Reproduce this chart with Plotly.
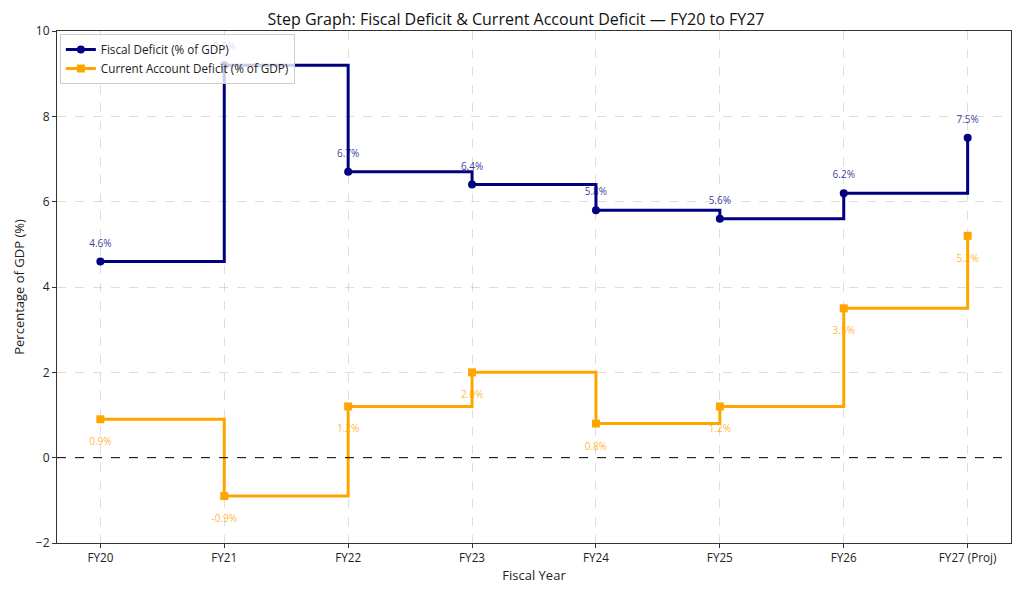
import plotly.graph_objects as go

years = ["FY20", "FY21", "FY22", "FY23", "FY24", "FY25", "FY26", "FY27 (Proj)"]
fiscal_deficit = [4.6, 9.2, 6.7, 6.4, 5.8, 5.6, 6.2, 7.5]
current_account_deficit = [0.9, -0.9, 1.2, 2.0, 0.8, 1.2, 3.5, 5.2]

NAVY = "#000080"
ORANGE = "#FFA500"
FONT = "Open Sans"

fig = go.Figure()

fig.add_trace(go.Scatter(
    x=years, y=fiscal_deficit, mode="lines+markers", line_shape="hv",
    name="Fiscal Deficit (% of GDP)",
    line=dict(color=NAVY, width=3),
    marker=dict(symbol="circle", size=8, color=NAVY),
))
fig.add_trace(go.Scatter(
    x=years, y=current_account_deficit, mode="lines+markers", line_shape="hv",
    name="Current Account Deficit (% of GDP)",
    line=dict(color=ORANGE, width=3),
    marker=dict(symbol="square", size=8, color=ORANGE),
))

# value labels (invisible markers push the text away from the points)
fig.add_trace(go.Scatter(
    x=years, y=fiscal_deficit, mode="markers+text",
    text=[f"{v:.1f}%" for v in fiscal_deficit], textposition="top center",
    textfont=dict(color="rgba(0,0,128,0.8)", size=10, family=FONT),
    marker=dict(size=18, color="rgba(0,0,0,0)"), showlegend=False, hoverinfo="skip",
))
fig.add_trace(go.Scatter(
    x=years, y=current_account_deficit, mode="markers+text",
    text=[f"{v:.1f}%" for v in current_account_deficit], textposition="bottom center",
    textfont=dict(color="rgba(255,165,0,0.8)", size=10, family=FONT),
    marker=dict(size=28, color="rgba(0,0,0,0)"), showlegend=False, hoverinfo="skip",
))

fig.add_hline(y=0, line=dict(color="black", width=1, dash="dash"))

fig.update_layout(
    width=1016, height=589,
    margin=dict(l=49, r=13, t=23, b=54),
    paper_bgcolor="white", plot_bgcolor="white",
    font=dict(family=FONT, size=12, color="#222"),
    title=dict(text="Step Graph: Fiscal Deficit & Current Account Deficit — FY20 to FY27",
               x=0.5, xanchor="center", y=0.98, yanchor="middle",
               font=dict(size=16, color="#111")),
    legend=dict(x=0.003, y=0.994, xanchor="left", yanchor="top",
                bgcolor="rgba(255,255,255,0.8)", bordercolor="#ccc", borderwidth=1,
                font=dict(size=11.7, color="#222"), tracegroupgap=0),
    showlegend=True,
)
fig.update_xaxes(
    type="category", range=[-0.35, 7.35],
    title=dict(text="Fiscal Year", font=dict(size=13), standoff=6),
    showgrid=True, gridcolor="rgba(0,0,0,0.13)", griddash="dash", gridwidth=1,
    showline=True, linecolor="#333", linewidth=1, mirror=True,
    ticks="outside", ticklen=4, tickcolor="#333", tickfont=dict(size=11.7),
    zeroline=False,
)
fig.update_yaxes(
    range=[-2, 10], dtick=2,
    title=dict(text="Percentage of GDP (%)", font=dict(size=13), standoff=8),
    showgrid=True, gridcolor="rgba(0,0,0,0.13)", griddash="dash", gridwidth=1,
    showline=True, linecolor="#333", linewidth=1, mirror=True,
    ticks="outside", ticklen=4, tickcolor="#333", tickfont=dict(size=12),
    zeroline=False,
)

fig.write_html("out.html")
